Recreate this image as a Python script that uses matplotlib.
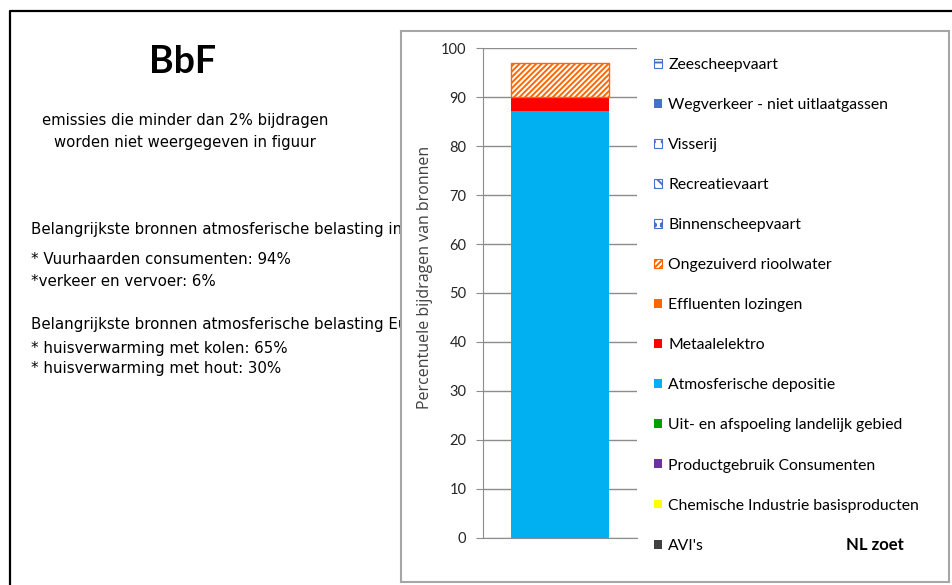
import numpy as np
import matplotlib
matplotlib.use('Agg')
import matplotlib.pyplot as plt
from matplotlib.patches import Patch
from matplotlib.lines import Line2D

W, H = 952, 585

# stapelvolgorde: van onder naar boven
sources = ["AVI's", 'Chemische Industrie basisproducten', 'Productgebruik Consumenten',
           'Uit- en afspoeling landelijk gebied', 'Atmosferische depositie', 'Metaalelektro',
           'Effluenten lozingen', 'Ongezuiverd rioolwater', 'Binnenscheepvaart',
           'Recreatievaart', 'Visserij', 'Wegverkeer - niet uitlaatgassen', 'Zeescheepvaart']
shares = [0, 0, 0, 0, 87.2, 2.8, 0, 6.9, 0, 0, 0, 0, 0]

face = ['#404040', '#FFFF00', '#7030A0', '#00A000', '#00B0F0', '#FF0000',
        '#FF6600', 'white', 'white', 'white', 'white', '#4472C4', 'white']
edge = ['#404040', '#FFFF00', '#7030A0', '#00A000', '#00B0F0', '#FF0000',
        '#FF6600', '#FF6600', '#4472C4', '#4472C4', '#4472C4', '#4472C4', '#4472C4']
hatch = [None, None, None, None, None, None, None, '//////', 'oo', '\\\\\\', '..', None, '--']

yticks = np.arange(0, 101, 10)

plt.rcParams['hatch.linewidth'] = 1.4

def fx(x):
    return x / W

def fy(y):
    return 1 - y / H

fig = plt.figure(figsize=(W / 100, H / 100), dpi=100)

# zwart kader van de dia
fig.add_artist(Line2D([fx(10), fx(10), 1], [0, fy(11), fy(11)], color='black', lw=1.6))

# tekst links
fig.text(fx(183), fy(62), 'BbF', family='Lato', fontweight='bold', fontsize=27,
         ha='center', va='center', zorder=0)
fig.text(fx(185), fy(121), 'emissies die minder dan 2% bijdragen', fontsize=10.7,
         ha='center', va='center', zorder=0)
fig.text(fx(185), fy(142), 'worden niet weergegeven in figuur', fontsize=10.7,
         ha='center', va='center', zorder=0)

left_lines = [
    (230, 'Belangrijkste bronnen atmosferische belasting in Nederland:'),
    (260, '* Vuurhaarden consumenten: 94%'),
    (281, '*verkeer en vervoer: 6%'),
    (325, 'Belangrijkste bronnen atmosferische belasting Europa:'),
    (348, '* huisverwarming met kolen: 65%'),
    (369, '* huisverwarming met hout: 30%'),
]
for y, s in left_lines:
    fig.text(fx(31), fy(y), s, fontsize=10.8, ha='left', va='center', zorder=0)

# grijze grafiekkader (dekt de tekst af)
box = fig.add_axes([fx(401), fy(582), fx(949 - 401), (582 - 31) / H], zorder=1)
box.set_facecolor('white')
box.set_xticks([])
box.set_yticks([])
for sp in box.spines.values():
    sp.set_color('#A6A6A6')
    sp.set_linewidth(1.5)

ax = fig.add_axes([fx(483), fy(537.7), fx(637 - 483), (537.7 - 48.3) / H], zorder=2)
ax.set_facecolor('none')

bottom = 0.0
for i, name in enumerate(sources):
    v = shares[i]
    ax.bar(0, v, width=0.64, bottom=bottom, color=face[i], edgecolor=edge[i],
           hatch=hatch[i], linewidth=1.0 if (v > 0 and hatch[i]) else 0, zorder=3)
    bottom += v

ax.set_xlim(-0.5, 0.5)
ax.set_ylim(0, 100)
ax.set_yticks(yticks)
ax.set_xticks([])
ax.yaxis.grid(True, color='#8C8C8C', lw=1.0, zorder=0)
ax.set_axisbelow(True)
for s in ['top', 'right']:
    ax.spines[s].set_visible(False)
ax.spines['left'].set_color('#8C8C8C')
ax.spines['bottom'].set_color('#8C8C8C')
ax.tick_params(axis='y', length=5, color='#8C8C8C', labelsize=10.5, labelcolor='#262626', pad=7)
for lab in ax.get_yticklabels():
    lab.set_family('Lato')
ax.set_ylabel('Percentuele bijdragen van bronnen', fontsize=11.5, family='Open Sans',
              color='#404040')
ax.yaxis.set_label_coords(-0.325, 0.532)

handles = [Patch(facecolor=face[i], edgecolor=edge[i], hatch=hatch[i],
                 linewidth=0.8 if hatch[i] else 0) for i in range(len(sources))]
fig.legend(handles[::-1], sources[::-1], loc='upper left',
           bbox_to_anchor=(fx(654), fy(58)), frameon=False,
           prop={'family': 'Lato', 'size': 11.3}, labelspacing=1.66,
           handlelength=0.5, handleheight=0.5, handletextpad=0.42,
           borderaxespad=0, borderpad=0).set_zorder(3)

fig.text(fx(875), fy(545), 'NL zoet', family='Lato', fontweight='bold', fontsize=12,
         ha='center', va='center', zorder=3)

fig.savefig('out.png', dpi=100)
